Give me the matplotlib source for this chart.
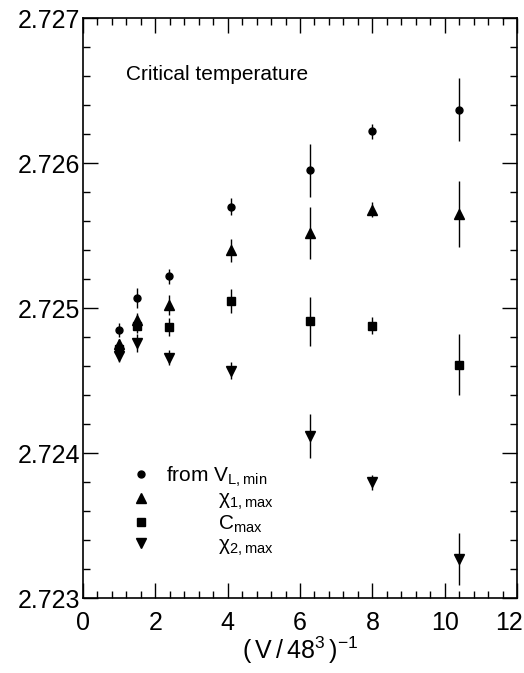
import matplotlib.pyplot as plt
from matplotlib.ticker import MultipleLocator, FormatStrFormatter
from matplotlib.lines import Line2D
from matplotlib.transforms import ScaledTranslation

plt.rcParams['font.family'] = ['Liberation Sans Narrow', 'Liberation Sans', 'DejaVu Sans']
plt.rcParams['mathtext.default'] = 'regular'

# x = (V/48^3)^-1 for the lattice sizes
x = [1.0, 1.49, 2.37, 4.096, 6.29, 8.0, 10.39]
xticks = [0, 2, 4, 6, 8, 10, 12]

# critical coupling estimates and their errors
v_min = [2.72485, 2.72507, 2.72522, 2.72570, 2.72595, 2.72622, 2.72637]
v_min_err = [0.00005, 0.00007, 0.00005, 0.00006, 0.00018, 0.00005, 0.00022]
chi1_max = [2.72475, 2.72492, 2.72502, 2.72540, 2.72552, 2.72568, 2.72565]
chi1_err = [0.00004, 0.00005, 0.00007, 0.00008, 0.00018, 0.00005, 0.00023]
c_max = [2.72472, 2.72488, 2.72487, 2.72505, 2.72491, 2.72488, 2.72461]
c_err = [0.00004, 0.00005, 0.00006, 0.00008, 0.00017, 0.00006, 0.00021]
chi2_max = [2.72467, 2.72476, 2.72466, 2.72457, 2.72412, 2.72380, 2.72327]
chi2_err = [0.00004, 0.00006, 0.00005, 0.00006, 0.00015, 0.00005, 0.00018]

fig = plt.figure(figsize=(5.24, 6.73), dpi=100)
ax = fig.add_axes([0.158, 0.111, 0.829, 0.862])

sets = [
    (v_min, v_min_err, 'o', 5, 'from $V_{L,min}$'),
    (chi1_max, chi1_err, '^', 7, '         $\\chi_{1,max}$'),
    (c_max, c_err, 's', 5.5, '         $C_{max}$'),
    (chi2_max, chi2_err, 'v', 7, '         $\\chi_{2,max}$'),
]
handles = []
for y, e, m, ms, lab in sets:
    ax.errorbar(x, y, yerr=e, fmt=m, color='black', ms=ms, elinewidth=1.0,
                capsize=0)
    handles.append(Line2D([], [], ls='none', marker=m, color='black', ms=ms, label=lab))

ax.set_xlim(0, 12)
ax.set_ylim(2.723, 2.727)
ax.set_xticks(xticks)
ax.xaxis.set_minor_locator(MultipleLocator(0.4))
ax.yaxis.set_major_locator(MultipleLocator(0.001))
ax.yaxis.set_minor_locator(MultipleLocator(0.0002))
ax.yaxis.set_major_formatter(FormatStrFormatter('%.3f'))
ax.tick_params(which='both', direction='in', top=True, right=True, labelsize=18)
ax.tick_params(which='major', length=11, width=1)
ax.tick_params(which='minor', length=5, width=1)
ax.tick_params(axis='x', pad=9)
ax.tick_params(axis='y', pad=2)
for s in ax.spines.values():
    s.set_linewidth(1.2)

# keep the "12" label inside the figure edge
last = ax.get_xticklabels()[-1]
last.set_horizontalalignment('right')
last.set_transform(last.get_transform() + ScaledTranslation(0.06, 0, fig.dpi_scale_trans))

ax.set_xlabel('$(\\,V\\,/\\,48^3\\,)^{-1}$', fontsize=18, labelpad=0)
ax.text(0.1, 0.893, 'Critical temperature', transform=ax.transAxes, fontsize=15)

ax.legend(handles=handles, loc='lower left', bbox_to_anchor=(0.09, 0.055), frameon=False,
          fontsize=15, handletextpad=0.7, labelspacing=0.05, handlelength=1,
          borderaxespad=0)

fig.savefig('out.png', dpi=100)
